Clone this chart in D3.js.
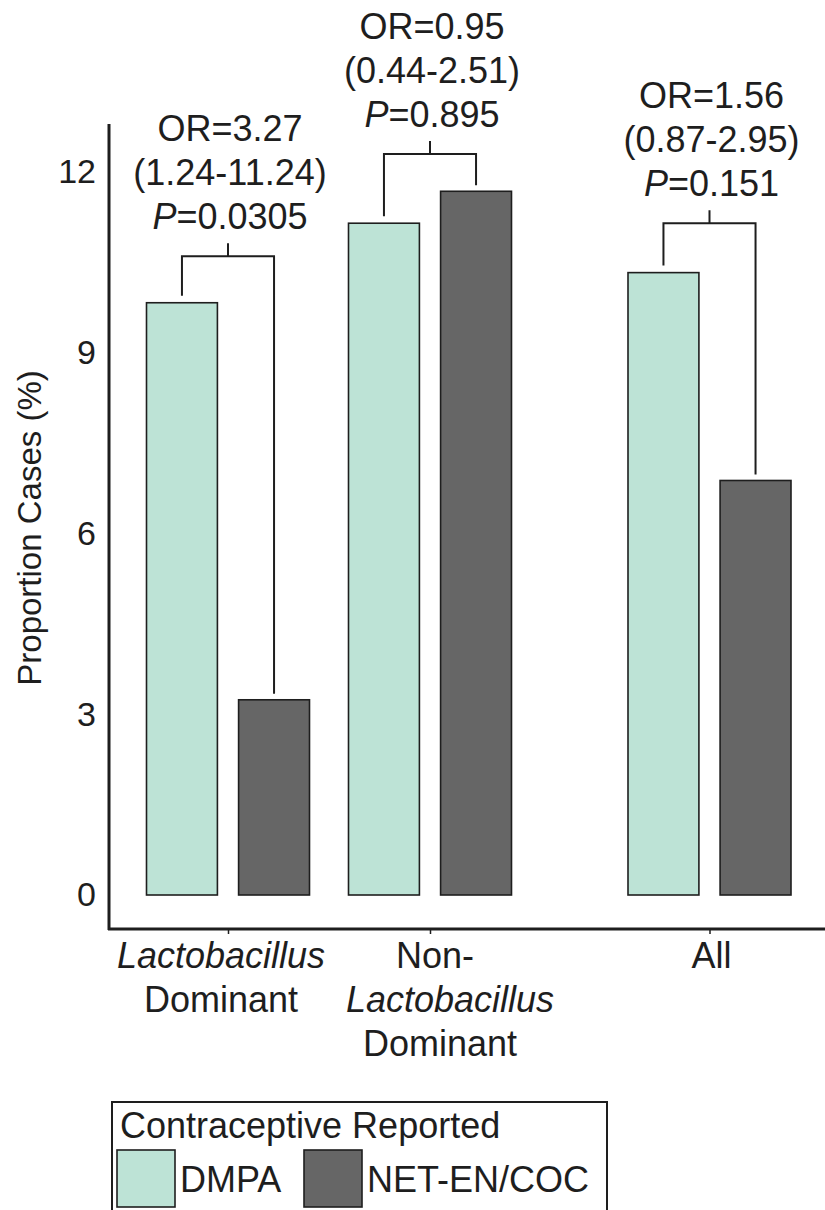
<!DOCTYPE html>
<html><head><meta charset="utf-8">
<script src="https://cdn.jsdelivr.net/npm/d3@7"></script>
<style>html,body{margin:0;padding:0;background:#fff;}svg{display:block;font-family:"Liberation Sans",Arial,sans-serif;}</style>
</head><body>
<script>
// ---- data ----
const categories = ["Lactobacillus Dominant", "Non-Lactobacillus Dominant", "All"];
const series = ["DMPA", "NET-EN/COC"];
const dmpaValues = [9.83, 11.15, 10.33];
const netValues = [3.24, 11.68, 6.88];
const yTicks = [0, 3, 6, 9, 12];
const orLabels = ["OR=3.27", "OR=0.95", "OR=1.56"];
const ciLabels = ["(1.24-11.24)", "(0.44-2.51)", "(0.87-2.95)"];
const pLabels = ["0.0305", "0.895", "0.151"];
const bracketLevels = [10.6, 12.3, 11.15];
const catLabelLines = [
  [["Lactobacillus", true], ["Dominant", false]],
  [["Non-", false], ["Lactobacillus", true], ["Dominant", false]],
  [["All", false]]
];
const yAxisTitle = "Proportion Cases (%)";
const legendTitle = "Contraceptive Reported";
const colors = ["#bde3d6", "#666666"];

// ---- layout ----
const W = 825, H = 1210;
const FS = 36;
const svg = d3.select("body").append("svg").attr("width", W).attr("height", H);
const y = d3.scaleLinear().domain([0, 12]).range([895, 172]);
const xGroup = d3.scaleOrdinal().domain(categories).range([228, 430, 709.5]);
const labelShift = [[-7, -7], [5, 20, 10], [2]];
const groupW = 163;
const xInner = d3.scaleBand().domain(series).range([0, groupW]).paddingInner(0.23).paddingOuter(0);
const ink = "#1e1e1e";

const rows = [];
categories.forEach((c, i) => {
  rows.push({cat: c, s: series[0], v: dmpaValues[i]});
  rows.push({cat: c, s: series[1], v: netValues[i]});
});

// bars
svg.append("g").selectAll("rect").data(rows).join("rect")
  .attr("x", d => xGroup(d.cat) - groupW / 2 + xInner(d.s))
  .attr("y", d => y(d.v))
  .attr("width", xInner.bandwidth())
  .attr("height", d => y(0) - y(d.v))
  .attr("fill", d => colors[series.indexOf(d.s)])
  .attr("stroke", ink).attr("stroke-width", 1.6);

// axes
const yAxis = d3.axisLeft(y).tickValues(yTicks).tickSize(0).tickPadding(13);
const gy = svg.append("g").attr("transform", "translate(109,0)").call(yAxis);
gy.select(".domain").remove();
gy.selectAll("text").attr("font-size", 34).attr("fill", ink).attr("font-family", "Liberation Sans, Arial, sans-serif");
svg.append("line").attr("x1", 109).attr("x2", 109).attr("y1", 124).attr("y2", 930)
  .attr("stroke", ink).attr("stroke-width", 3);

const xAxis = d3.axisBottom(xGroup).tickSize(5).tickFormat("");
const gx = svg.append("g").attr("transform", "translate(0,929)").call(xAxis);
gx.select(".domain").remove();
gx.selectAll("line").attr("stroke", ink).attr("stroke-width", 1.5);
svg.append("line").attr("x1", 108).attr("x2", W).attr("y1", 929).attr("y2", 929)
  .attr("stroke", ink).attr("stroke-width", 3);

// category labels
categories.forEach((c, i) => {
  catLabelLines[i].forEach((ln, j) => {
    svg.append("text").attr("x", xGroup(c) + labelShift[i][j]).attr("y", 968 + j * 44)
      .attr("text-anchor", "middle").attr("font-size", FS).attr("fill", ink)
      .attr("font-style", ln[1] ? "italic" : "normal").text(ln[0]);
  });
});

// y title
svg.append("text").attr("transform", "translate(41,528) rotate(-90)")
  .attr("text-anchor", "middle").attr("font-size", 33).attr("fill", ink).text(yAxisTitle);

// brackets + annotations
categories.forEach((c, i) => {
  const x0 = xGroup(c) - groupW / 2;
  const xa = x0 + xInner(series[0]) + xInner.bandwidth() / 2;
  const xb = x0 + xInner(series[1]) + xInner.bandwidth() / 2;
  const yb = y(bracketLevels[i]);
  const xm = (xa + xb) / 2;
  const path = d3.path();
  path.moveTo(xa, y(dmpaValues[i]) - 7);
  path.lineTo(xa, yb); path.lineTo(xb, yb);
  path.lineTo(xb, y(netValues[i]) - 6);
  path.moveTo(xm, yb); path.lineTo(xm, yb - 13);
  svg.append("path").attr("d", path.toString()).attr("fill", "none")
    .attr("stroke", ink).attr("stroke-width", 2);
  const base = yb - 13 - 14;
  const g = svg.append("g").attr("font-size", FS).attr("fill", ink).attr("text-anchor", "middle");
  g.append("text").attr("x", xm + 2).attr("y", base - 88).text(orLabels[i]);
  g.append("text").attr("x", xm + 2).attr("y", base - 44).text(ciLabels[i]);
  const t = g.append("text").attr("x", xm + 2).attr("y", base);
  t.append("tspan").attr("font-style", "italic").text("P");
  t.append("tspan").text("=" + pLabels[i]);
});

// legend
const lg = svg.append("g");
lg.append("rect").attr("x", 112).attr("y", 1102).attr("width", 495).attr("height", 130)
  .attr("fill", "#fff").attr("stroke", ink).attr("stroke-width", 2);
lg.append("text").attr("x", 120).attr("y", 1138).attr("font-size", FS).attr("fill", ink).text(legendTitle);
const legX = [117, 304];
series.forEach((s, i) => {
  lg.append("rect").attr("x", legX[i]).attr("y", 1150).attr("width", 58).attr("height", 57)
    .attr("fill", colors[i]).attr("stroke", ink).attr("stroke-width", 1.6);
  lg.append("text").attr("x", legX[i] + 63).attr("y", 1192).attr("font-size", FS).attr("fill", ink).text(s);
});
</script>
</body></html>
